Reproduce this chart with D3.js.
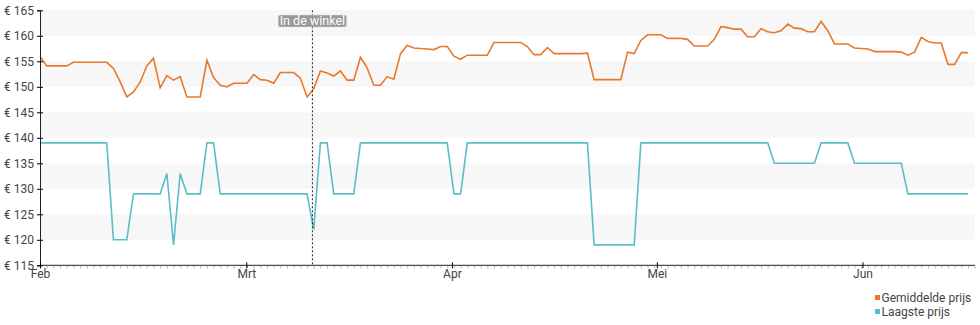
<!DOCTYPE html>
<html>
<head>
<meta charset="utf-8">
<script src="https://cdn.jsdelivr.net/npm/d3@7"></script>
<style>
  body { margin: 0; background: #fff; }
  svg { font-family: Roboto, "Noto Sans", sans-serif; }
</style>
</head>
<body>
<svg id="chart"></svg>
<script>
// gemiddelde prijs per dag (index 0 = 1 feb)
var avgPrice = [
  156.0, 154.1, 154.1, 154.1, 154.1, 154.8, 154.8, 154.8, 154.8, 154.8,
  154.8, 153.6, 151.0, 148.0, 149.0, 150.9, 154.1, 155.6, 149.8, 152.2,
  151.3, 152.0, 148.0, 148.0, 148.0, 155.2, 151.8, 150.3, 150.0, 150.7,
  150.7, 150.7, 152.4, 151.4, 151.3, 150.7, 152.8, 152.8, 152.8, 151.7,
  148.0, 149.6, 153.1, 152.7, 152.1, 153.1, 151.3, 151.3, 155.8, 153.7,
  150.3, 150.3, 152.0, 151.5, 156.5, 158.1, 157.6, 157.5, 157.4, 157.3,
  157.9, 157.9, 156.0, 155.4, 156.2, 156.2, 156.2, 156.2, 158.7, 158.7,
  158.7, 158.7, 158.7, 157.9, 156.3, 156.3, 157.7, 156.5, 156.5, 156.5,
  156.5, 156.5, 156.6, 151.4, 151.4, 151.4, 151.4, 151.4, 156.8, 156.5,
  159.1, 160.2, 160.2, 160.2, 159.5, 159.5, 159.5, 159.3, 158.0, 158.0,
  158.0, 159.3, 161.8, 161.6, 161.3, 161.3, 159.8, 159.8, 161.4, 160.8,
  160.6, 161.0, 162.3, 161.5, 161.4, 160.8, 160.8, 162.8, 161.0, 158.4,
  158.4, 158.4, 157.6, 157.5, 157.4, 156.9, 156.9, 156.9, 156.9, 156.8,
  156.2, 156.8, 159.7, 158.9, 158.6, 158.6, 154.4, 154.4, 156.7, 156.7
];

// laagste prijs per dag
var lowPrice = [
  139, 139, 139, 139, 139, 139, 139, 139, 139, 139,
  139, 120, 120, 120, 129, 129, 129, 129, 129, 133,
  119, 133, 129, 129, 129, 139, 139, 129, 129, 129,
  129, 129, 129, 129, 129, 129, 129, 129, 129, 129,
  129, 122, 139, 139, 129, 129, 129, 129, 139, 139,
  139, 139, 139, 139, 139, 139, 139, 139, 139, 139,
  139, 139, 129, 129, 139, 139, 139, 139, 139, 139,
  139, 139, 139, 139, 139, 139, 139, 139, 139, 139,
  139, 139, 139, 119, 119, 119, 119, 119, 119, 119,
  139, 139, 139, 139, 139, 139, 139, 139, 139, 139,
  139, 139, 139, 139, 139, 139, 139, 139, 139, 139,
  135, 135, 135, 135, 135, 135, 135, 139, 139, 139,
  139, 139, 135, 135, 135, 135, 135, 135, 135, 135,
  129, 129, 129, 129, 129, 129, 129, 129, 129, 129
];

var monthTicks = [0, 30.9, 61.7, 92.4, 123.2];
var monthLabels = ["Feb", "Mrt", "Apr", "Mei", "Jun"];
var priceTicks = [115, 120, 125, 130, 135, 140, 145, 150, 155, 160, 165];
var seriesNames = ["Gemiddelde prijs", "Laagste prijs"];
var seriesColors = ["#e8792c", "#5dbdc6"];
var markerIndex = 40.8;
var markerLabel = "In de winkel";

var svgWidth = 980, svgHeight = 325;
var plotLeft = 40, plotRight = 975, plotTop = 10.3, plotBottom = 265.3;

var svg = d3.select("#chart")
      .attr("width", svgWidth)
      .attr("height", svgHeight);

var x = d3.scaleLinear().domain([0, avgPrice.length - 1]).range([plotLeft, 968]);
var y = d3.scaleLinear().domain([115, 165]).range([plotBottom, plotTop]);

// grijze banden om de 5 euro
var bands = d3.range(0, priceTicks.length - 1).filter(function(i) { return i % 2 == 1; });
svg.append("g")
      .selectAll("rect")
      .data(bands)
      .join("rect")
      .attr("x", plotLeft)
      .attr("width", plotRight - plotLeft)
      .attr("y", function(i) { return y(priceTicks[i + 1]); })
      .attr("height", function(i) { return y(priceTicks[i]) - y(priceTicks[i + 1]); })
      .attr("fill", "#f7f7f7");

var line = d3.line()
      .x(function(d, i) { return x(i); })
      .y(function(d) { return y(d); });

svg.append("path")
      .datum(lowPrice)
      .attr("d", line)
      .attr("fill", "none")
      .attr("stroke", seriesColors[1])
      .attr("stroke-width", 1.6);

svg.append("path")
      .datum(avgPrice)
      .attr("d", line)
      .attr("fill", "none")
      .attr("stroke", seriesColors[0])
      .attr("stroke-width", 1.6);

// assen
var yAxis = svg.append("g")
      .attr("transform", "translate(" + plotLeft + ",0)")
      .call(d3.axisLeft(y)
            .tickValues(priceTicks)
            .tickSize(3)
            .tickFormat(function(d) { return "€ " + d; }));
yAxis.selectAll(".tick line").attr("x2", 3).attr("x1", -3);

var minorAxis = svg.append("g")
      .attr("transform", "translate(0," + plotBottom + ")")
      .call(d3.axisBottom(x)
            .tickValues(d3.range(0, 141))
            .tickSize(2)
            .tickFormat(""));
minorAxis.select(".domain").remove();
minorAxis.selectAll(".tick line").attr("stroke", "#aaa").attr("y1", 1).attr("y2", 3);

var xAxis = svg.append("g")
      .attr("transform", "translate(0," + plotBottom + ")")
      .call(d3.axisBottom(x)
            .tickValues(monthTicks)
            .tickSize(3)
            .tickFormat(function(d, i) { return monthLabels[i]; }));
xAxis.select(".domain").attr("d", "M" + plotLeft + ",0H" + plotRight);
xAxis.selectAll(".tick line").attr("y1", -3).attr("y2", 3);

svg.selectAll(".tick text")
      .attr("font-family", "Roboto, sans-serif")
      .attr("font-size", 12)
      .attr("fill", "#444");
xAxis.selectAll(".tick text").attr("dy", "0.6em");
svg.selectAll(".domain, .tick line").attr("stroke-width", 1);
yAxis.selectAll(".domain").attr("stroke", "#222");
xAxis.selectAll(".domain").attr("stroke", "#222");

// markering "In de winkel"
var mx = x(markerIndex);
svg.append("line")
      .attr("x1", mx).attr("x2", mx)
      .attr("y1", plotTop).attr("y2", plotBottom)
      .attr("stroke", "#222")
      .attr("stroke-dasharray", "2,2");

var label = svg.append("g");
var labelText = label.append("text")
      .attr("x", mx)
      .attr("y", 25)
      .attr("text-anchor", "middle")
      .attr("font-size", 12.5)
      .attr("fill", "#fff")
      .text(markerLabel);
var bb = labelText.node().getBBox();
label.insert("rect", "text")
      .attr("x", bb.x - 1.5)
      .attr("y", 15)
      .attr("width", bb.width + 3)
      .attr("height", 12)
      .attr("rx", 2)
      .attr("fill", "#999")
      .attr("stroke", "#ddd")
      .attr("stroke-width", 0.5);

// legenda
var legend = svg.append("g")
      .selectAll("g")
      .data(seriesNames)
      .join("g")
      .attr("transform", function(d, i) { return "translate(875," + (297 + i * 14) + ")"; });

legend.append("rect")
      .attr("x", 0).attr("y", -2)
      .attr("width", 5).attr("height", 5)
      .attr("fill", function(d, i) { return seriesColors[i]; });

legend.append("text")
      .attr("x", 6.5)
      .attr("y", 4.5)
      .attr("font-size", 12)
      .attr("fill", "#444")
      .text(function(d) { return d; });
</script>
</body>
</html>
